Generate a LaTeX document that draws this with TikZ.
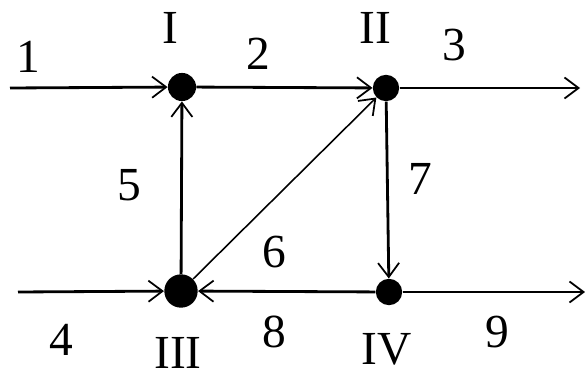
\documentclass[tikz,border=0pt]{standalone}
\usepackage{fontspec}
\setmainfont{Liberation Serif}
\usetikzlibrary{arrows.meta}

\begin{document}
\begin{tikzpicture}[x=0.02cm, y=-0.02cm,
        junction/.style={circle, fill=black, inner sep=0pt, minimum size=#1},
        flow/.style={line width=1.6pt, -{Straight Barb[length=8pt, width=12pt, line width=1pt]}},
        lbl/.style={font=\fontsize{27}{32}\selectfont, inner sep=0pt}]
    \useasboundingbox (0,0) rectangle (585,378);
    % junctions
    \node[junction=16pt] (I) at (182,87) {};
    \node[junction=15pt] (II) at (386,88) {};
    \node[junction=19pt] (III) at (181,291) {};
    \node[junction=15pt] (IV) at (389,292) {};
    \coordinate (in1) at (10,88);
    \coordinate (out3) at (580,88);
    \coordinate (in4) at (18,292);
    \coordinate (out9) at (585,292);
    % branches
    \draw[flow] (in1) -- (I);
    \draw[flow] (I) -- (II);
    \draw[flow] (II) -- (out3);
    \draw[flow] (in4) -- (III);
    \draw[flow] (III) -- (I);
    \draw[flow, line width=0.9pt] (III) -- (II);
    \draw[flow] (II) -- (IV);
    \draw[flow] (IV) -- (III);
    \draw[flow] (IV) -- (out9);
    % labels
    \node[lbl] (nI) at (170,28) {I};
    \node[lbl] (nII) at (375,28) {II};
    \node[lbl] (nIII) at (178,353) {III};
    \node[lbl] (nIV) at (387,349) {IV};
    \node[lbl] (n1) at (28,57) {1};
    \node[lbl] (n2) at (258,54) {2};
    \node[lbl] (n3) at (454,45) {3};
    \node[lbl] (n4) at (61,340) {4};
    \node[lbl] (n5) at (129,185) {5};
    \node[lbl] (n6) at (274,252) {6};
    \node[lbl] (n7) at (420,179) {7};
    \node[lbl] (n8) at (274,332) {8};
    \node[lbl] (n9) at (497,332) {9};
\end{tikzpicture}
\end{document}
